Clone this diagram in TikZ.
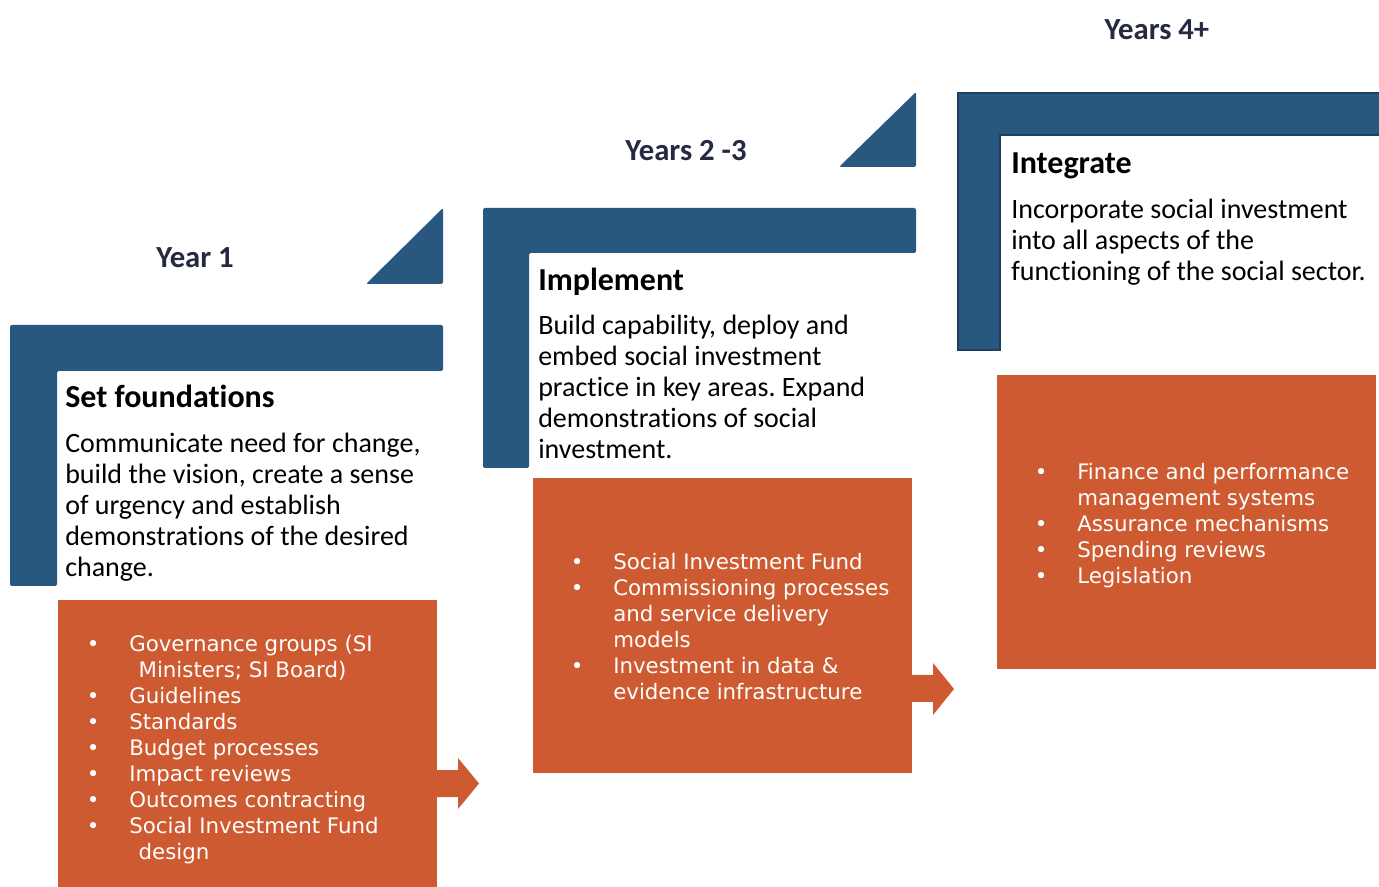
\documentclass[tikz,border=0pt]{standalone}
\usepackage{fontspec}
\setmainfont[RawFeature={-liga;-clig;-calt;-dlig}]{Carlito}
\newfontfamily\bulletfont{DejaVu Sans}
\usetikzlibrary{calc}
\frenchspacing
\definecolor{siblue}{HTML}{285780}
\definecolor{siedge}{HTML}{1E3F5E}
\definecolor{siorange}{HTML}{CD5A30}
\definecolor{yeartext}{HTML}{262A40}
\newcommand\bodylines[1]{\vtop{\fontsize{21}{23.25}\selectfont #1}}
\newcommand\bulletlines[1]{\vtop{\bulletfont\fontsize{16}{19.5}\selectfont #1}}
\newcommand\bl[1]{\hbox{\makebox[18pt][c]{•}\hspace{18pt}#1}}
\newcommand\cl[1]{\hbox{\hspace{36pt}#1}}
\begin{document}
\begin{tikzpicture}[x=0.75pt,y=-0.75pt,
  yearlabel/.style={inner sep=0pt,anchor=base,text=yeartext,font=\bfseries\fontsize{23}{27}\selectfont},
  headlabel/.style={inner sep=0pt,anchor=base west,font=\bfseries\fontsize{24}{28}\selectfont},
  bodylabel/.style={inner sep=0pt,anchor=base west},
  orangebox/.style={fill=siorange,draw=none,inner sep=0pt,anchor=north west},
  bulletlabel/.style={inner sep=0pt,anchor=base west,text=white},
  bluefill/.style={fill=siblue,rounded corners=1.5pt},
  orangefill/.style={fill=siorange}
]
\useasboundingbox (0,0) rectangle (1379,887);
\fill[white] (0,0) rectangle (1379,887);

% ---------- Stage 1 ----------
\fill[bluefill] (366,284) -- (443,284) -- (443,208) -- cycle;
\fill[bluefill] (10,325) -- (443,325) -- (443,371) -- (57,371) -- (57,586) -- (10,586) -- cycle;
\node[yearlabel] (y1) at (195,267.5) {Year 1};
\node[headlabel] (h1) at (65,407.5) {Set foundations};
\node[bodylabel] (t1) at (65,452.5) {\bodylines{%
  \hbox{Communicate need for change,}%
  \hbox{build the vision, create a sense}%
  \hbox{of urgency and establish}%
  \hbox{demonstrations of the desired}%
  \hbox{change.}}};
\node[orangebox,minimum width=379*0.75pt,minimum height=287*0.75pt] (b1) at (58,600) {};
\node[bulletlabel] (l1) at (81,652) {\bulletlines{%
  \bl{Governance groups (SI}%
  \cl{\hspace{7pt}Ministers; SI Board)}%
  \bl{Guidelines}%
  \bl{Standards}%
  \bl{Budget processes}%
  \bl{Impact reviews}%
  \bl{Outcomes contracting}%
  \bl{Social Investment Fund}%
  \cl{\hspace{7pt}design}}};
\fill[orangefill] (436,770) -- (458,770) -- (458,758) -- (479,783.5) -- (458,809) -- (458,797) -- (436,797) -- cycle;

% ---------- Stage 2 ----------
\fill[bluefill] (839,167) -- (916,167) -- (916,92) -- cycle;
\fill[bluefill] (483,208) -- (916,208) -- (916,253) -- (529,253) -- (529,468) -- (483,468) -- cycle;
\node[yearlabel] (y2) at (686,160.5) {Years 2 -3};
\node[headlabel] (h2) at (538,290.5) {Implement};
\node[bodylabel] (t2) at (538,334.5) {\bodylines{%
  \hbox{Build capability, deploy and}%
  \hbox{embed social investment}%
  \hbox{practice in key areas. Expand}%
  \hbox{demonstrations of social}%
  \hbox{investment.}}};
\node[orangebox,minimum width=379*0.75pt,minimum height=295*0.75pt] (b2) at (533,478) {};
\node[bulletlabel] (l2) at (565,570) {\bulletlines{%
  \bl{Social Investment Fund}%
  \bl{Commissioning processes}%
  \cl{and service delivery}%
  \cl{models}%
  \bl{Investment in data \&}%
  \cl{evidence infrastructure}}};
\fill[orangefill] (911,675) -- (933,675) -- (933,663) -- (954,689) -- (933,715) -- (933,702) -- (911,702) -- cycle;

% ---------- Stage 3 ----------
\filldraw[fill=siblue,draw=siedge,line width=0.9pt] (958,93) -- (1380,93) -- (1380,135) -- (1000,135) -- (1000,350) -- (958,350) -- cycle;
\node[yearlabel] (y3) at (1157,39.5) {Years 4+};
\node[headlabel] (h3) at (1011,173.5) {Integrate};
\node[bodylabel] (t3) at (1011,218.5) {\bodylines{%
  \hbox{Incorporate social investment}%
  \hbox{into all aspects of the}%
  \hbox{functioning of the social sector.}}};
\node[orangebox,minimum width=379*0.75pt,minimum height=294*0.75pt] (b3) at (997,375) {};
\node[bulletlabel] (l3) at (1029,480) {\bulletlines{%
  \bl{Finance and performance}%
  \cl{management systems}%
  \bl{Assurance mechanisms}%
  \bl{Spending reviews}%
  \bl{Legislation}}};
\end{tikzpicture}
\end{document}
